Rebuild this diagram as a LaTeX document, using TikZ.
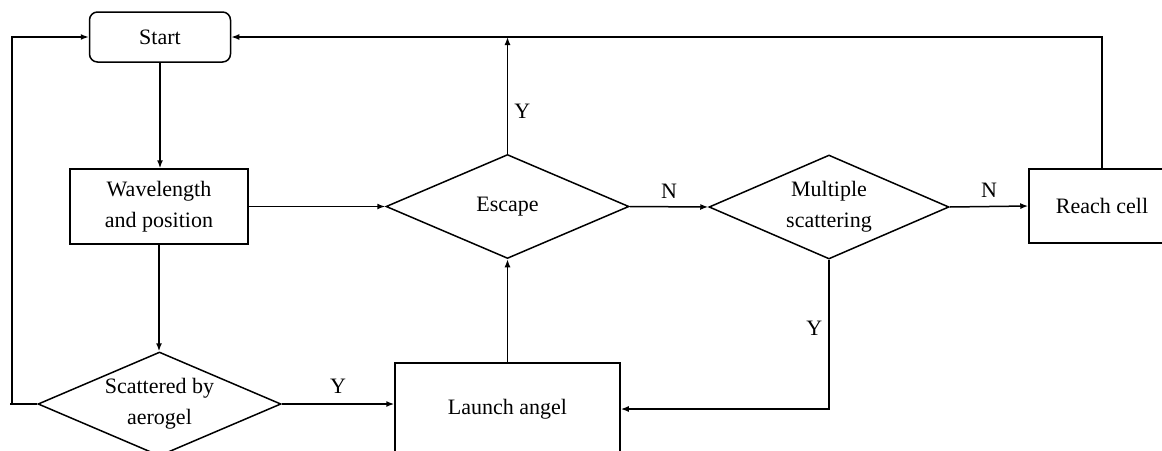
\documentclass[tikz,border=0pt]{standalone}
\usepackage{fontspec}
\setmainfont{Liberation Serif}
\usetikzlibrary{shapes.geometric,arrows.meta,calc}
\begin{document}
\begin{tikzpicture}[x=1pt,y=-1pt,
  every node/.style={font=\fontsize{22}{31}\selectfont, inner sep=0pt, align=center},
  box/.style={draw, line width=1.5pt, minimum width=#1},
  decision/.style={draw, diamond, line width=1.5pt, minimum width=243pt, minimum height=104pt, aspect=2.34},
  flow/.style={line width=1.5pt, -{Latex[length=8pt,width=6pt]}},
  plain/.style={line width=1.5pt},
  lbl/.style={font=\fontsize{22}{25}\selectfont}]
\useasboundingbox (0,0) rectangle (1162,450);
\clip (0,0) rectangle (1162,450);

% process steps
\node[box=141pt, minimum height=50pt, rounded corners=8pt] (start) at (160,37) {Start};
\node[box=178pt, minimum height=75pt] (wave) at (159,206.5) {Wavelength\\and position};
\node[decision] (escape) at (507.5,206.5) {Escape};
\node[decision, minimum width=240pt] (multi) at (829,207) {Multiple\\scattering};
\node[box=146pt, minimum height=74pt] (reach) at (1102,206) {Reach cell};
\node[decision] (scat) at (159.5,404) {Scattered by\\aerogel};
\node[box=225pt, minimum height=92pt] (launch) at (507.5,409) {Launch angel};

% main flow
\draw[flow] (start.south) -- (start.south |- wave.north);
\draw[flow] (wave.south) -- (wave.south |- scat.north);
\draw[flow] (wave.east) -- (escape.west);
\draw[flow] (escape.east) -- node[lbl, above=8pt] {N} (multi.west);
\draw[flow] (multi.east) -- node[lbl, above=8pt] {N} (reach.west);
\draw[flow] (scat.east) -- node[lbl, above=10pt] {Y} (scat.east -| launch.west);
\draw[flow] (launch.north) -- (escape.south);

% feedback paths
\coordinate (loopL) at (10,404);
\draw[plain] (scat.west) -- (loopL);
\draw[flow] (12,404) |- (start.west);
\draw[flow] (reach.north) |- (start.east);
\draw[flow] (escape.north) -- node[lbl, pos=0.36, right=6pt] {Y} (escape.north |- start.east);
\coordinate (multiDown) at (multi.south |- launch.east);
\draw[flow] (multi.south) -- node[lbl, pos=0.46, left=6pt] {Y} (multiDown) -- (launch.east);
\end{tikzpicture}
\end{document}
